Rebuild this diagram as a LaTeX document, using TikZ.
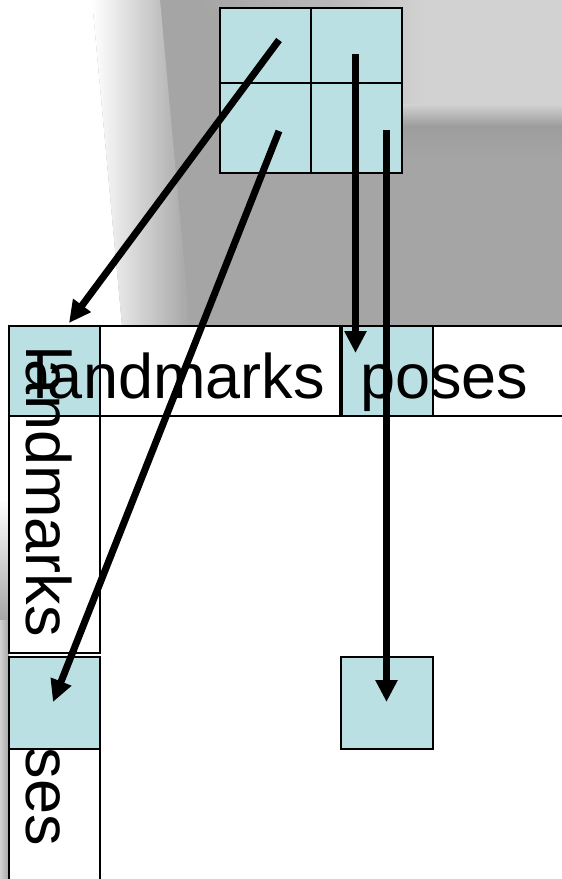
\documentclass[tikz,border=0pt]{standalone}
\usepackage{fontspec}
\setmainfont{Liberation Sans}
\usetikzlibrary{arrows.meta}
\definecolor{cellblue}{RGB}{187,224,227}
\definecolor{bgbase}{RGB}{165,165,165}
\definecolor{bgdark}{RGB}{157,157,157}
\definecolor{bglight}{RGB}{210,210,210}
\definecolor{bgmid}{RGB}{185,185,185}
\begin{document}
\begin{tikzpicture}[x=1pt,y=-1pt,
  box/.style={draw=black, line width=1.4pt, inner sep=0pt, outer sep=0pt},
  bluebox/.style={box, fill=cellblue},
  whitebox/.style={box, fill=white},
  lbl/.style={inner sep=0pt, outer sep=0pt, font=\fontsize{63}{63}\selectfont, anchor=base west},
  arr/.style={line width=7pt, -{Triangle[length=22pt,width=21pt]}}
]
\useasboundingbox (0,0) rectangle (562,879);
\clip (0,0) rectangle (562,879);
% background
\fill[white] (0,0) rectangle (562,879);
\fill[bgbase] (0,0) rectangle (562,326);
\shade[left color=bgbase, right color=bgmid] (200,0) rectangle (330,8);
\shade[left color=bgmid, right color=bglight] (330,0) rectangle (425,104);
\fill[bglight] (425,0) rectangle (562,104);
\shade[top color=bglight, bottom color=bgdark] (402,104) rectangle (562,126);
\shade[top color=bgdark, bottom color=bgbase] (402,126) rectangle (562,160);
\begin{scope}[xslant=-0.092]
  \fill[white] (-60,0) rectangle (92,326);
  \shade[left color=white, right color=bgbase] (92,0) rectangle (160,326);
\end{scope}
\shade[top color=white, bottom color=bgbase] (0,500) rectangle (9,620);
\shade[left color=bglight, right color=bgbase] (0,620) rectangle (9,879);
% table cells
\node[bluebox, minimum width=91pt, minimum height=90pt] (corner) at (54.5,371) {};
\node[whitebox, minimum width=240pt, minimum height=90pt] (hlandcell) at (220,371) {};
\node[bluebox, minimum width=91pt, minimum height=90pt] (hblue) at (387.5,371) {};
\node[whitebox, minimum width=167pt, minimum height=90pt] (hposecell) at (516.5,371) {};
\node[whitebox, minimum width=91pt, minimum height=237pt] (vlandcell) at (54.5,534.5) {};
\node[bluebox, minimum width=91pt, minimum height=92pt] (vblue) at (54.5,703) {};
\node[whitebox, minimum width=91pt, minimum height=151pt] (vposecell) at (54.5,824.5) {};
\node[bluebox, minimum width=92pt, minimum height=92pt] (inner) at (387,703) {};
% labels
\node[lbl] (hland) at (34,398) {landmarks};
\node[lbl] (hposes) at (360,398) {poses};
\node[lbl, rotate=-90] (vland) at (27,346) {landmarks};
\node[lbl, rotate=-90] (vses) at (27,747.5) {ses};
% top grid
\node[bluebox, minimum width=91pt, minimum height=75pt] (g11) at (265.5,45.5) {};
\node[bluebox, minimum width=91pt, minimum height=75pt] (g12) at (356.5,45.5) {};
\node[bluebox, minimum width=91pt, minimum height=90pt] (g21) at (265.5,128) {};
\node[bluebox, minimum width=91pt, minimum height=90pt] (g22) at (356.5,128) {};
% arrows
\coordinate (a1s) at (279,40);
\coordinate (a1e) at (69,323);
\coordinate (a2s) at (279,131);
\coordinate (a2e) at (53,702);
\coordinate (a3s) at (355.5,54);
\coordinate (a3e) at (355.5,353);
\coordinate (a4s) at (386.5,130);
\coordinate (a4e) at (386.5,702);
\draw[arr] (a1s) -- (a1e);
\draw[arr] (a2s) -- (a2e);
\draw[arr] (a3s) -- (a3e);
\draw[arr] (a4s) -- (a4e);
\end{tikzpicture}
\end{document}
